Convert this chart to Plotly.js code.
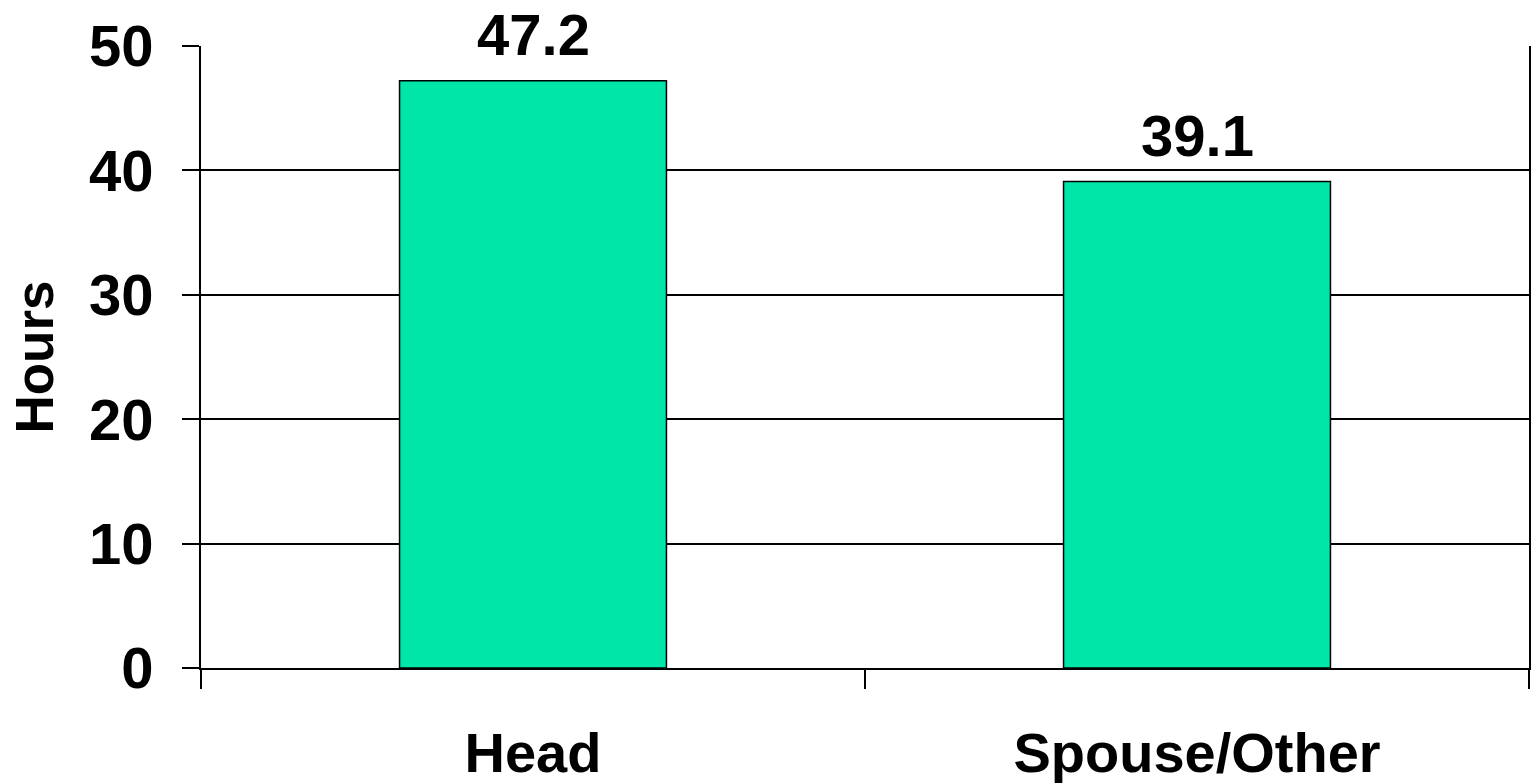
<!DOCTYPE html>
<html>
<head>
<meta charset="utf-8">
<script src="https://cdn.plot.ly/plotly-3.0.1.min.js"></script>
<style>html,body{margin:0;padding:0;background:#fff;}#chart{width:1536px;height:783px;}</style>
</head>
<body>
<div id="chart"></div>
<script>
const categories = ["Head", "Spouse/Other"];
const hours = [47.2, 39.1];
const valueLabels = ["47.2", "39.1"];
const yTickValues = [0, 10, 20, 30, 40, 50];

const FONT = "Liberation Sans, Arial, sans-serif";

const trace = {
  type: "bar",
  x: categories,
  y: hours,
  width: 0.402,
  marker: { color: "#00E5A8", line: { color: "#000000", width: 1.5 } },
  hoverinfo: "x+y"
};

const annotations = categories.map((c, i) => ({
  x: c, y: hours[i], xref: "x", yref: "y",
  text: "<b>" + valueLabels[i] + "</b>",
  showarrow: false, yanchor: "bottom", yshift: 13, borderpad: 0,
  font: { family: FONT, size: 58, color: "#000" }
}));

const layout = {
  width: 1536, height: 783,
  margin: { l: 201, r: 7, t: 46, b: 115 },
  paper_bgcolor: "#fff", plot_bgcolor: "#fff",
  showlegend: false,
  bargap: 0.6,
  font: { family: FONT, color: "#000" },
  xaxis: {
    type: "category",
    tickson: "boundaries",
    ticks: "outside", ticklen: 19, tickwidth: 2, tickcolor: "#000",
    showline: true, linecolor: "#000", linewidth: 2,
    showgrid: false, zeroline: false,
    ticklabelstandoff: 35,
    tickfont: { family: FONT, size: 56, color: "#000", weight: "bold" },
    fixedrange: true
  },
  yaxis: {
    range: [0, 50],
    tickvals: yTickValues,
    ticktext: yTickValues.map(String),
    ticks: "outside", ticklen: 17, tickwidth: 2, tickcolor: "#000",
    showline: true, linecolor: "#000", linewidth: 2, mirror: true,
    showgrid: true, gridcolor: "#000", gridwidth: 2,
    zeroline: false,
    ticklabelstandoff: 17,
    tickfont: { family: FONT, size: 58, color: "#000", weight: "bold" },
    title: { text: "<b>Hours</b>", font: { family: FONT, size: 53, color: "#000" }, standoff: 18 },
    fixedrange: true
  },
  annotations: annotations
};

Plotly.newPlot("chart", [trace], layout, { displayModeBar: false, staticPlot: true });
</script>
</body>
</html>
